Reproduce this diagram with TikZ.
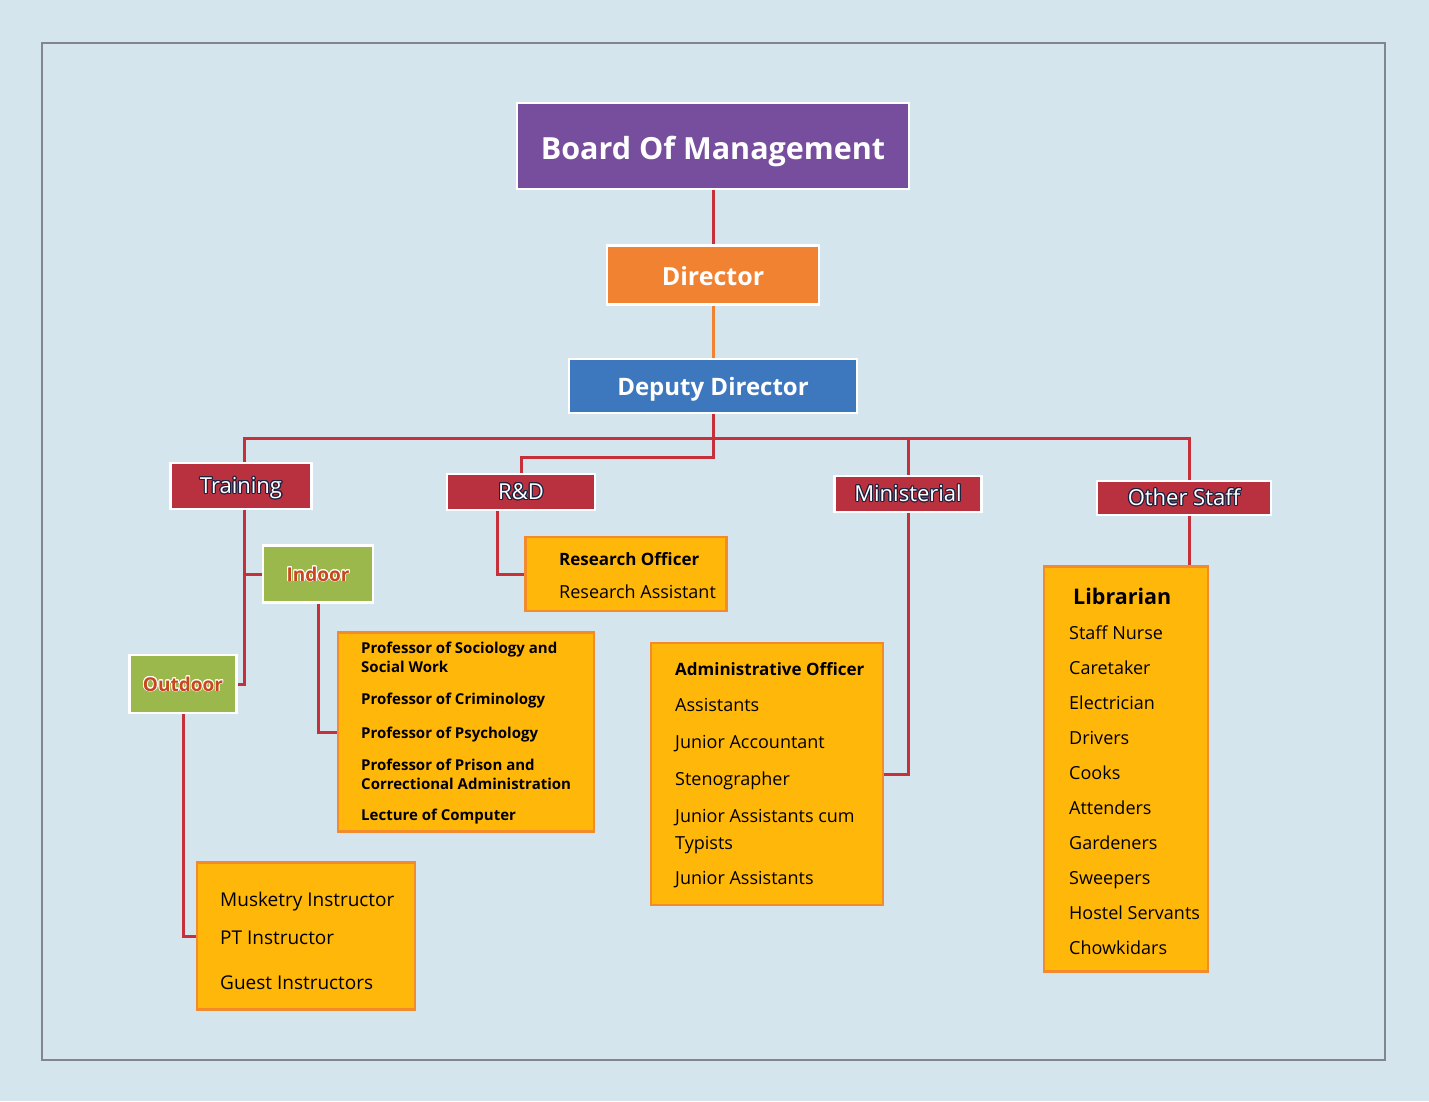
\documentclass[tikz,border=0pt]{standalone}
\usepackage{fontspec}
\setmainfont{Open Sans}
\usepackage{contour}
\contourlength{1.1pt}
\definecolor{himmel}{HTML}{D5E5EE}
\definecolor{rahmen}{HTML}{80868C}
\definecolor{lila}{HTML}{764E9D}
\definecolor{orangeh}{HTML}{F08232}
\definecolor{blauh}{HTML}{3D78BF}
\definecolor{karmin}{HTML}{B9303F}
\definecolor{gruen}{HTML}{9BB84D}
\definecolor{rost}{HTML}{C8471E}
\definecolor{amber}{HTML}{FFB709}
\definecolor{amberr}{HTML}{F38B2C}
\definecolor{linie}{HTML}{C5303A}
\definecolor{tinte}{HTML}{1E2240}
\tikzset{
  kopf/.style={draw=white,line width=2.5pt,text=white,inner sep=0pt,text depth=0pt},
  abt/.style={draw=white,line width=2.5pt,fill=karmin,text=white,inner sep=0pt,text height=15pt,text depth=0pt,font=\fontsize{22}{26}\selectfont},
  zweig/.style={draw=white,line width=2.5pt,fill=gruen,text=rost,inner sep=0pt,text height=14pt,text depth=0pt,font=\bfseries\fontsize{19}{24}\selectfont},
  liste/.style={draw=amberr,line width=2.5pt,fill=amber,inner sep=0pt},
  zeilen/.style={anchor=north west,align=left,inner sep=0pt,text=black},
  verb/.style={linie,line width=3pt},
}
\begin{document}
\begin{tikzpicture}[x=1pt,y=-1pt]
  \fill[himmel] (0,0) rectangle (1429,1101);
  \draw[rahmen,line width=2.5pt] (42,43) rectangle (1385,1060);
  \node[kopf,fill=lila,minimum width=392pt,minimum height=86pt,text height=27pt,font=\bfseries\fontsize{30.5}{36}\selectfont] (board) at (713,146) {Board Of Management};
  \node[kopf,fill=orangeh,minimum width=212pt,minimum height=59pt,text height=21pt,font=\bfseries\fontsize{25}{30}\selectfont] (director) at (713,275) {Director};
  \node[kopf,fill=blauh,minimum width=288pt,minimum height=54pt,text height=19pt,font=\bfseries\fontsize{24}{29}\selectfont] (deputy) at (713,386) {Deputy Director};
  \node[abt,minimum width=141pt,minimum height=46pt] (training) at (241,486) {\contour{tinte}{Training}};
  \node[abt,minimum width=148pt,minimum height=36pt] (rd) at (521,492) {\contour{tinte}{R\&D}};
  \node[abt,minimum width=147pt,minimum height=36pt] (min) at (908,494) {\contour{tinte}{Ministerial}};
  \node[abt,minimum width=174pt,minimum height=34pt] (os) at (1184,498) {\contour{tinte}{Other Staff}};
  \contourlength{0.8pt}
  \node[zweig,minimum width=110pt,minimum height=57pt] (indoor) at (318,574) {\contour{white}{Indoor}};
  \node[zweig,minimum width=107pt,minimum height=58pt] (outdoor) at (183,684) {\contour{white}{Outdoor}};
  \node[liste,minimum width=201pt,minimum height=74pt] (research) at (626,574) {};
  \node[liste,minimum width=256pt,minimum height=199pt] (prof) at (466,732) {};
  \node[liste,minimum width=218pt,minimum height=147pt] (instr) at (306,936) {};
  \node[liste,minimum width=232pt,minimum height=262pt] (admin) at (767,774) {};
  \node[liste,minimum width=164pt,minimum height=405pt] (lib) at (1126,769) {};
  \coordinate (bus) at (713,438);
  \coordinate (knick) at (713,457);
  \draw[verb] (board) -- (director);
  \draw[verb,orangeh] (director) -- (deputy);
  \draw[verb] (deputy.south) -- (bus);
  \draw[verb] ([xshift=3pt]training.north) |- (bus) -| ([xshift=5pt]os.north);
  \draw[verb] (min.north) -- (min.north |- bus);
  \draw[verb] (bus) -- (knick) -| (rd.north);
  \draw[verb] ([xshift=3pt]training.south) |- (outdoor.east);
  \draw[verb] (indoor.west) -- ([xshift=3pt]indoor.west -| training.south);
  \draw[verb] (indoor.south) |- (prof.west);
  \draw[verb] (outdoor.south) |- (instr.west);
  \draw[verb] ([xshift=52pt]rd.south west) |- (research.west);
  \draw[verb] (min.south) |- (admin.east);
  \draw[verb] ([xshift=5pt]os.south) -- ([xshift=5pt]os.south |- lib.north);
  \node[zeilen,font=\fontsize{18}{33}\selectfont] (restext) at (559,552) {{\bfseries\fontsize{17}{33}\selectfont Research Officer}\\Research Assistant};
  \node[zeilen,font=\bfseries\fontsize{15}{19}\selectfont] (proftext) at (361,642) {Professor of Sociology and\\Social Work\\[13pt]Professor of Criminology\\[15pt]Professor of Psychology\\[13pt]Professor of Prison and\\Correctional Administration\\[12pt]Lecture of Computer};
  \node[zeilen,font=\fontsize{19}{38}\selectfont] (instrtext) at (220,892) {Musketry Instructor\\PT Instructor\\[7pt]Guest Instructors};
  \node[zeilen,font=\fontsize{18}{27}\selectfont] (admintext) at (675,662) {{\bfseries\fontsize{17}{27}\selectfont Administrative Officer}\\[9pt]Assistants\\[10pt]Junior Accountant\\[10pt]Stenographer\\[10pt]Junior Assistants cum\\Typists\\[8pt]Junior Assistants};
  \node[zeilen,font=\fontsize{18}{35}\selectfont] (libtext) at (1069,588) {\hspace*{4pt}{\bfseries\fontsize{21.5}{35}\selectfont Librarian}\\Staff Nurse\\Caretaker\\Electrician\\Drivers\\Cooks\\Attenders\\Gardeners\\Sweepers\\Hostel Servants\\Chowkidars};
\end{tikzpicture}
\end{document}
